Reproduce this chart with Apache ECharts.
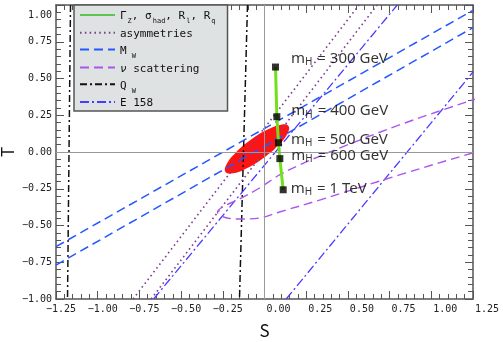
<!DOCTYPE html>
<html>
<head>
<meta charset="utf-8">
<script src="https://cdn.jsdelivr.net/npm/echarts@6/dist/echarts.min.js"></script>
<style>
html, body { margin: 0; padding: 0; background: #fff; }
#chart { width: 503px; height: 342px; }
</style>
</head>
<body>
<div id="chart"></div>
<script>
// S-T plane: constraints from the various measurements + SM higgs line
var sMin = -1.25, sMax = 1.25, tMin = -1.0, tMax = 1.0, tickStep = 0.25;

// each band = two straight edges, [S, T] end points
var qwLines = [
    [[-1.163, 1.0], [-1.181, -1.0]],
    [[-0.102, 1.0], [-0.150, -1.0]]
];
var mwLines = [
    [[-1.25, -0.644], [1.25, 0.964]],
    [[-1.25, -0.769], [1.25, 0.846]]
];
var asymLines = [
    [[-0.788, -1.0], [0.567, 1.0]],
    [[-0.680, -1.0], [0.675, 1.0]]
];
var e158Lines = [
    [[-0.665, -1.0], [0.796, 1.0]],
    [[0.130, -1.0], [1.25, 0.544]]
];
// nu scattering contour (upper edge right->left, then lower edge left->right)
var nuContour = [
    [1.529, 0.456], [1.247, 0.354], [0.809, 0.184], [0.450, 0.027], [0.210, -0.088],
    [0.090, -0.156], [-0.030, -0.245], [-0.150, -0.320], [-0.240, -0.367], [-0.282, -0.408],
    [-0.246, -0.442], [-0.150, -0.456], [-0.030, -0.449], [0.090, -0.408], [0.330, -0.327],
    [0.809, -0.156], [1.247, -0.007], [1.529, 0.082]
];
// global fit ellipse
var fitEllipse = [
    [0.144, 0.177], [0.138, 0.126], [0.083, 0.046], [-0.006, -0.040], [-0.106, -0.110],
    [-0.189, -0.145], [-0.234, -0.136], [-0.228, -0.085], [-0.173, -0.005], [-0.084, 0.081],
    [0.016, 0.151], [0.100, 0.186]
];
// SM prediction vs higgs mass
var higgsS = [0.066, 0.074, 0.084, 0.092, 0.112];
var higgsT = [0.578, 0.240, 0.063, -0.045, -0.257];
var higgsMass = ['300 GeV', '400 GeV', '500 GeV', '600 GeV', '1 TeV'];

var MONO = "'DejaVu Sans Mono', monospace";
var SANS = "'Noto Sans', 'Open Sans', sans-serif";
var AXIS_COLOR = '#555';

var higgsPts = higgsS.map(function (s, i) { return [s, higgsT[i]]; });
var labelNudge = [[4, -7], [3, -4], [1, -2], [0, -1], [-4, 0]];

var myChart = echarts.init(document.getElementById('chart'));

function band(name, lines, color, width, dash) {
    return lines.map(function (pts) {
        return {
            type: 'line',
            name: name,
            data: pts,
            symbol: 'none',
            clip: true,
            silent: true,
            lineStyle: { color: color, width: width, type: dash },
            itemStyle: { color: color }
        };
    });
}

function sLabel(v) {
    var t = Math.abs(v).toFixed(2);
    if (v < -1e-9) return '{n| }{t|\u2212' + t + '}';
    return '{p| }{t|' + t + '}';
}

function tLabel(v) {
    var t = (v < -1e-9 ? '\u2212' : '') + Math.abs(v).toFixed(2);
    if (v > 0.999) return '{top|' + t + '}';
    return t;
}

var legendText = {
    gz: '{b|\u0393}{s|Z}{b|, \u03c3}{s|had}{b|, R}{s|l}{b|, R}{s|q}',
    asym: '{b|asymmetries}',
    mw: '{b|M}{s| W}',
    nu: '{i|\u03bd}{b| scattering}',
    qw: '{b|Q}{s| W}',
    e158: '{b|E 158}'
};

var tickBase = {
    axisLine: { show: true, onZero: false, lineStyle: { color: AXIS_COLOR, width: 1.5 } },
    axisTick: { show: true, inside: true, length: 8, lineStyle: { color: AXIS_COLOR, width: 1 } },
    minorTick: { show: true, splitNumber: 5, length: 5, lineStyle: { color: AXIS_COLOR, width: 1 } },
    splitLine: { show: false },
    minorSplitLine: { show: false }
};

function axis(extra) {
    var o = JSON.parse(JSON.stringify(tickBase));
    for (var k in extra) o[k] = extra[k];
    return o;
}

var series = [].concat(
    band('qw', qwLines, '#111111', 1.5, [7, 3, 2, 3]),
    band('mw', mwLines, '#2458ff', 1.5, [9, 5]),
    band('asym', asymLines, '#7e3f8e', 1.6, [1.6, 3.2]),
    band('e158', e158Lines, '#4b3bff', 1.3, [9, 3, 2, 3]),
    [{
        type: 'line',
        name: 'nu',
        data: nuContour,
        symbol: 'none',
        smooth: 0.35,
        clip: true,
        silent: true,
        lineStyle: { color: '#aa55ee', width: 1.4, type: [9, 5] },
        itemStyle: { color: '#aa55ee' }
    }, {
        type: 'custom',
        name: 'fit',
        data: fitEllipse,
        silent: true,
        z: 3,
        renderItem: function (params, api) {
            if (params.dataIndex !== 0) return null;
            return {
                type: 'polygon',
                shape: { points: fitEllipse.map(function (p) { return api.coord(p); }), smooth: 0.45 },
                style: { fill: '#ff1414' }
            };
        }
    }, {
        type: 'line',
        name: 'gz',
        data: higgsPts,
        symbol: 'none',
        silent: true,
        z: 4,
        lineStyle: { color: '#72e01c', width: 3 },
        itemStyle: { color: '#72e01c' }
    }, {
        type: 'scatter',
        name: 'mh',
        z: 5,
        silent: true,
        symbol: 'rect',
        symbolSize: 7,
        itemStyle: { color: '#000' },
        data: higgsPts.map(function (p, i) {
            return { value: p, label: { offset: labelNudge[i] } };
        }),
        label: {
            show: true,
            position: 'right',
            distance: 8,
            formatter: function (p) {
                return '{m|m}{h|H}{m| = ' + higgsMass[p.dataIndex] + '}';
            },
            rich: {
                m: { fontFamily: SANS, fontSize: 15, lineHeight: 18, verticalAlign: 'top', color: '#000' },
                h: { fontFamily: SANS, fontSize: 10, lineHeight: 10, padding: [6, 1, 0, 0], verticalAlign: 'top', color: '#000' }
            }
        }
    }]
);

// zero lines
series[0].markLine = {
    silent: true,
    symbol: ['none', 'none'],
    label: { show: false },
    lineStyle: { color: '#999', width: 1, type: 'solid' },
    data: [{ xAxis: 0 }, { yAxis: 0 }]
};

var option = {
    animation: false,
    backgroundColor: '#fff',
    grid: { left: 56, right: 30, top: 5, bottom: 43, outerBoundsMode: 'none' },
    legend: {
        orient: 'vertical',
        left: 74,
        top: 5,
        padding: [4, 12, 0, 5],
        itemWidth: 35,
        itemHeight: 10,
        itemGap: 1.8,
        backgroundColor: '#dfe2e2',
        borderColor: AXIS_COLOR,
        borderWidth: 1.5,
        borderRadius: 0,
        selectedMode: false,
        itemStyle: { opacity: 0 },
        formatter: function (name) { return legendText[name]; },
        textStyle: {
            fontFamily: MONO,
            fontSize: 11,
            color: '#111',
            rich: {
                b: { fontFamily: MONO, fontSize: 11, lineHeight: 12, padding: [2, 0, 2, 0], verticalAlign: 'top', color: '#111' },
                i: { fontFamily: MONO, fontSize: 11, fontStyle: 'italic', lineHeight: 12, padding: [2, 0, 2, 0], verticalAlign: 'top', color: '#111' },
                s: { fontFamily: MONO, fontSize: 7, lineHeight: 7, padding: [9, 0, 0, 1], verticalAlign: 'top', color: '#111' }
            }
        },
        data: [
            { name: 'gz', lineStyle: { color: '#33bb22', width: 1.5 } },
            { name: 'asym' }, { name: 'mw' }, { name: 'nu' }, { name: 'qw' }, { name: 'e158' }
        ]
    },
    xAxis: [
        axis({
            type: 'value', position: 'bottom', min: sMin, max: sMax, interval: tickStep,
            name: 'S', nameLocation: 'middle', nameGap: 32, nameMoveOverlap: false,
            nameTextStyle: { fontFamily: "'Noto Sans CJK JP', sans-serif", fontSize: 17, color: '#111', verticalAlign: 'middle' },
            axisLabel: {
                show: true, margin: 5, color: '#222', fontFamily: MONO, fontSize: 10,
                showMinLabel: true, showMaxLabel: true, hideOverlap: false,
                formatter: sLabel,
                rich: {
                    n: { width: 10 },
                    p: { width: 28 },
                    t: { fontFamily: MONO, fontSize: 10, color: '#222' }
                }
            }
        }),
        axis({
            type: 'value', position: 'top', min: sMin, max: sMax, interval: tickStep,
            axisLabel: { show: false }
        })
    ],
    yAxis: [
        axis({
            type: 'value', position: 'left', min: tMin, max: tMax, interval: tickStep,
            name: 'T', nameLocation: 'middle', nameRotate: 90, nameGap: 40, nameMoveOverlap: false,
            nameTextStyle: { fontFamily: "'Noto Sans CJK JP', sans-serif", fontSize: 17, color: '#111' },
            axisLabel: {
                show: true, margin: 4, color: '#222', fontFamily: MONO, fontSize: 10,
                showMinLabel: true, showMaxLabel: true,
                formatter: tLabel,
                rich: { top: { fontFamily: MONO, fontSize: 10, color: '#222', padding: [20, 0, 0, 0] } }
            }
        }),
        axis({
            type: 'value', position: 'right', min: tMin, max: tMax, interval: tickStep,
            axisLabel: { show: false }
        })
    ],
    series: series
};

myChart.setOption(option, true);
</script>
</body>
</html>
